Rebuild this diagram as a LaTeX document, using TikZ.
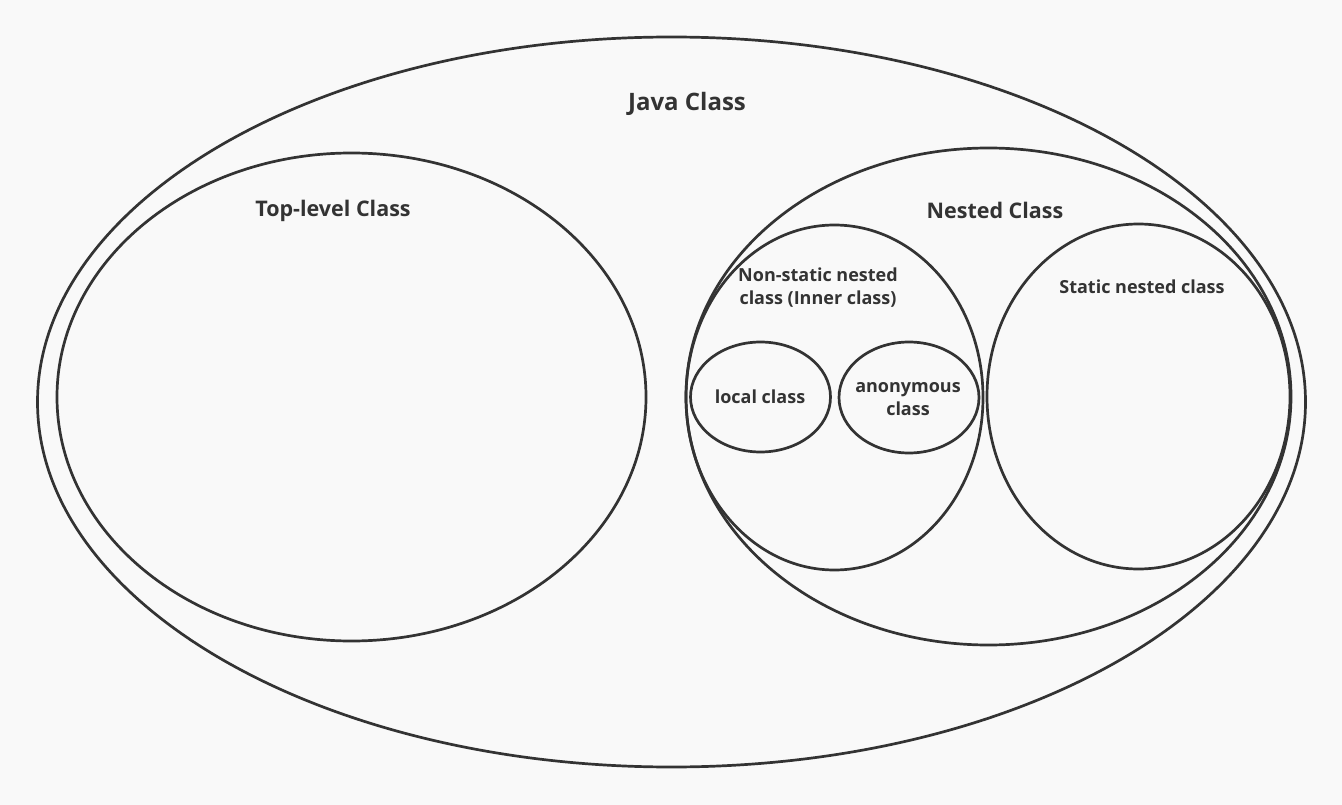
\documentclass[tikz,border=0pt]{standalone}
\usepackage{fontspec}
\setmainfont{Open Sans}
\usetikzlibrary{shapes.geometric}
\definecolor{ink}{HTML}{333333}
\definecolor{bg}{HTML}{F9F9F9}
\tikzset{
  set/.style={draw=ink, line width=2.7pt, ellipse, inner sep=0pt, outer sep=0pt},
  big/.style={text=ink, font=\bfseries\fontsize{21.5}{26}\selectfont, inner sep=0pt},
  huge/.style={text=ink, font=\bfseries\fontsize{24}{28}\selectfont, inner sep=0pt},
  small/.style={text=ink, font=\bfseries\fontsize{18}{23}\selectfont, inner sep=0pt, align=center},
}
\begin{document}
\begin{tikzpicture}[x=1pt,y=-1pt]
\fill[bg] (0,0) rectangle (1342,805);
\useasboundingbox (0,0) rectangle (1342,805);
\node[set, minimum width=1268pt, minimum height=730pt] (java) at (671.5,402) {};
\node[set, minimum width=589pt, minimum height=488pt] (top) at (351.5,397) {};
\node[set, minimum width=605pt, minimum height=497pt] (nested) at (988.5,396.5) {};
\node[set, minimum width=297pt, minimum height=345pt] (nonstatic) at (834.5,397.5) {};
\node[set, minimum width=303pt, minimum height=345pt] (static) at (1138.5,396.5) {};
\node[set, minimum width=140pt, minimum height=110pt] (local) at (760.5,397) {};
\node[set, minimum width=140pt, minimum height=111pt] (anon) at (909,397.5) {};
\node[huge] (tJava) at (687,104) {Java Class};
\node[big] (tTop) at (333,211) {Top-level Class};
\node[big] (tNested) at (995,210) {Nested Class};
\node[small] (tNon) at (818,288) {Non-static nested\\class (Inner class)};
\node[small] (tStatic) at (1142,287) {Static nested class};
\node[small] (tLocal) at (760,397) {local class};
\node[small] (tAnon) at (908,399) {anonymous\\class};
\end{tikzpicture}
\end{document}
